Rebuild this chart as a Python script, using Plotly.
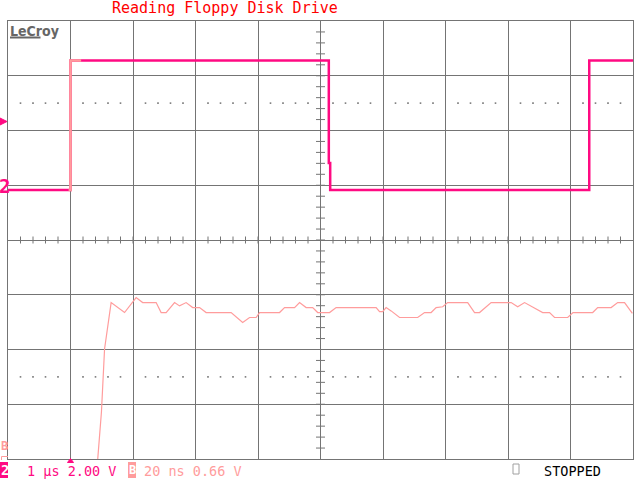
import plotly.graph_objects as go

# ---------------- data ----------------
# Channel 2: 1 us/div, 2.00 V/div (time in us, volts)
ch2_time_us = [-5.0, -4.0, -4.0, 0.133, 0.133, 0.155, 0.155, 4.30, 4.30, 5.0]
ch2_volts = [0.0, 0.0, 4.73, 4.73, 0.99, 0.99, 0.0, 0.0, 4.73, 4.73]
ch2_volts_per_div = 2.0
ch2_offset_div = 0.913

# Zoom window shown in trace B (us)
zoom_start_us = -4.03
zoom_end_us = -3.83

# Trace B: zoom of channel 2, 20 ns/div, 0.66 V/div (time in ns, volts)
b_time_ns = [-71.8, -71.2, -70.1, -69.1, -67.0, -62.7, -59.0, -56.9, -52.6, -51.0,
             -49.4, -46.7, -45.1, -43.0, -40.9, -38.7, -36.6, -28.6, -24.9, -22.7,
             -20.6, -19.5, -13.1, -11.5, -8.3, -6.7, -4.6, -2.5, -0.9, 2.9,
             5.0, 17.8, 18.9, 19.9, 21.0, 22.6, 25.3, 31.1, 33.3, 35.4,
             37.0, 39.1, 40.7, 47.1, 49.3, 50.9, 54.6, 61.0, 63.1, 65.3,
             69.5, 71.1, 73.3, 74.9, 79.1, 80.8, 87.1, 88.7, 93.0, 95.1,
             97.3, 99.4, 99.8]
b_volts = [2.62, 2.87, 3.43, 4.19, 4.75, 4.63, 4.81, 4.75, 4.75, 4.63,
           4.63, 4.75, 4.71, 4.75, 4.69, 4.69, 4.63, 4.63, 4.51, 4.57,
           4.57, 4.63, 4.63, 4.69, 4.69, 4.75, 4.69, 4.69, 4.63, 4.63,
           4.69, 4.69, 4.64, 4.64, 4.69, 4.65, 4.57, 4.57, 4.63, 4.63,
           4.69, 4.70, 4.75, 4.75, 4.63, 4.63, 4.75, 4.75, 4.70, 4.75,
           4.67, 4.63, 4.63, 4.57, 4.57, 4.63, 4.63, 4.69, 4.69, 4.75,
           4.75, 4.63, 4.62]
b_ns_per_div = 20.0
b_volts_per_div = 0.66
b_offset_div = -8.34

title_text = "Reading Floppy Disk Drive"
ch2_label = "1 \u00b5s 2.00 V"
b_label = "20 ns 0.66 V"
status_text = "STOPPED"

# ---------------- styles ----------------
W, H = 640, 480
L, R, T, B = 8, 633, 21, 459
MAGENTA = "#ff0a82"
PINK = "#ff9c9c"
GRID = "#747474"
MONO = "DejaVu Sans Mono"


def px(x):
    return (x - L) / (R - L)


def py(y):
    return (B - y) / (B - T)


# highlight part of channel 2 inside the zoom window
hl_t, hl_v = [], []
prev_v = ch2_volts[0]
for t, v in zip(ch2_time_us, ch2_volts):
    if t < zoom_start_us:
        prev_v = v
    elif t <= zoom_end_us:
        hl_t.append(t)
        hl_v.append(v)
hl_t = [zoom_start_us] + hl_t + [zoom_end_us]
hl_v = [prev_v] + hl_v + [hl_v[-1] if hl_v else prev_v]

fig = go.Figure()

# grid dots at +/-2.5 div
dot_x, dot_y = [], []
for yy in (2.5, -2.5):
    for k in range(-24, 25):
        if k % 5 != 0:
            dot_x.append(k * 0.2)
            dot_y.append(yy)
fig.add_trace(go.Scatter(x=dot_x, y=dot_y, mode="markers", xaxis="x", yaxis="y",
                         marker=dict(size=1.6, color="#7a7a7a", symbol="square",
                                     line=dict(width=0)),
                         hoverinfo="skip", showlegend=False))

fig.add_trace(go.Scatter(x=ch2_time_us, y=ch2_volts, mode="lines", xaxis="x2", yaxis="y2",
                         line=dict(color=MAGENTA, width=2.5), showlegend=False))
fig.add_trace(go.Scatter(x=hl_t, y=hl_v, mode="lines", xaxis="x2", yaxis="y2",
                         line=dict(color=PINK, width=2.5), showlegend=False))
fig.add_trace(go.Scatter(x=b_time_ns, y=b_volts, mode="lines", xaxis="x3", yaxis="y3",
                         line=dict(color=PINK, width=1.2), showlegend=False))

# centre-axis tick marks
path = ""
for k in range(-24, 25):
    x = k * 0.2
    path += f"M{x:.3f},-0.064L{x:.3f},0.064"
for k in range(-19, 20):
    y = k * 0.2
    path += f"M-0.072,{y:.3f}L0.072,{y:.3f}"

shapes = [dict(type="path", path=path, xref="x", yref="y",
               line=dict(color=GRID, width=1), layer="below")]

# trigger level marker (left) and trigger position marker (bottom)
shapes.append(dict(type="path", xref="paper", yref="paper",
                   path=f"M{px(0)},{py(118)}L{px(7)},{py(121.5)}L{px(0)},{py(125)}Z",
                   fillcolor=MAGENTA, line=dict(color=MAGENTA, width=1)))
shapes.append(dict(type="path", xref="paper", yref="paper",
                   path=f"M{px(67.5)},{py(462.5)}L{px(70.5)},{py(458.5)}L{px(73.5)},{py(462.5)}Z",
                   fillcolor=MAGENTA, line=dict(color=MAGENTA, width=1)))
# bottom channel boxes
shapes.append(dict(type="rect", xref="paper", yref="paper",
                   x0=px(0), x1=px(8), y0=py(478), y1=py(462),
                   fillcolor=MAGENTA, line=dict(width=0)))
shapes.append(dict(type="rect", xref="paper", yref="paper",
                   x0=px(128), x1=px(136), y0=py(478), y1=py(462),
                   fillcolor=PINK, line=dict(width=0)))
shapes.append(dict(type="path", xref="paper", yref="paper",
                   path=f"M{px(8)},{py(456.5)}L{px(1.5)},{py(456.5)}L{px(1.5)},{py(460)}",
                   line=dict(color=PINK, width=1)))
# stop indicator square
shapes.append(dict(type="rect", xref="paper", yref="paper",
                   x0=px(513), x1=px(519), y0=py(474), y1=py(464),
                   line=dict(color="#a0a0a0", width=1)))
# LeCroy underline
shapes.append(dict(type="line", xref="paper", yref="paper",
                   x0=px(10), x1=px(40.5), y0=py(37.5), y1=py(37.5),
                   line=dict(color="#666666", width=2)))

ann = []


def text(x, y, s, color, size, family=MONO, anchor="left", bold=False):
    ann.append(dict(x=px(x), y=py(y), xref="paper", yref="paper", text=(f"<b>{s}</b>" if bold else s),
                    showarrow=False, xanchor=anchor, yanchor="middle",
                    font=dict(family=family, size=size, color=color), borderpad=0))


text(111, 8, title_text, "#ff0000", 15)
text(9, 30.5, "LeCroy", "#666666", 14, family="Liberation Sans Narrow, DejaVu Sans Condensed", bold=True)
text(4.5, 186, "2", MAGENTA, 19, anchor="center", bold=True)
text(4.5, 446, "B", PINK, 12, anchor="center", bold=True)
text(4.5, 470, "2", "#ffffff", 14, anchor="center", bold=True)
text(132, 470, "B", "#ffffff", 12, anchor="center", bold=True)
text(25.5, 470.5, ch2_label, MAGENTA, 13.5)
text(143, 470.5, b_label, PINK, 13.5)
text(543, 470.5, status_text, "#000000", 13.5)

grid_axis = dict(showgrid=True, gridcolor=GRID, gridwidth=1, showline=True, mirror=True,
                 linecolor=GRID, linewidth=1, zeroline=False, showticklabels=False,
                 ticks="", fixedrange=True)

fig.update_layout(
    width=W, height=H, autosize=False,
    margin=dict(l=L, r=W - R, t=T, b=H - B, pad=0),
    paper_bgcolor="white", plot_bgcolor="white",
    shapes=shapes, annotations=ann, showlegend=False,
    xaxis=dict(range=[-5, 5], dtick=1, tick0=0, **grid_axis),
    yaxis=dict(range=[-4, 4], dtick=1, tick0=0, **grid_axis),
    xaxis2=dict(range=[-5, 5], overlaying="x", visible=False, anchor="y2"),
    yaxis2=dict(range=[(-4 - ch2_offset_div) * ch2_volts_per_div,
                       (4 - ch2_offset_div) * ch2_volts_per_div],
                overlaying="y", visible=False, anchor="x2"),
    xaxis3=dict(range=[-5 * b_ns_per_div, 5 * b_ns_per_div], overlaying="x", visible=False, anchor="y3"),
    yaxis3=dict(range=[(-4 - b_offset_div) * b_volts_per_div,
                       (4 - b_offset_div) * b_volts_per_div],
                overlaying="y", visible=False, anchor="x3"),
)

fig.write_html("out.html", config={"displayModeBar": False, "responsive": False},
               post_script="document.body.style.margin='0';document.body.style.overflow='hidden';")
